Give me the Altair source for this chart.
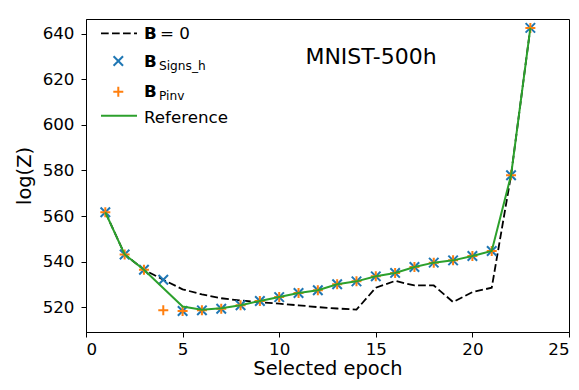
import altair as alt
import pandas as pd

# ---------------- data ----------------
epochs = list(range(1, 24))
b_zero = [561.7, 543.2, 536.5, 532.1, 527.9, 525.7, 524.0, 523.0, 522.3, 521.6,
          520.9, 520.1, 519.5, 519.0, 528.6, 531.6, 529.6, 529.6, 522.3, 526.7,
          528.6, 577.9, 642.5]
b_signs_h = [561.7, 543.2, 536.5, 532.1, 518.4, 518.7, 519.4, 520.9, 522.8, 524.5,
             526.3, 527.5, 530.1, 531.4, 533.6, 535.1, 537.7, 539.6, 540.6, 542.5,
             544.7, 577.9, 642.5]
b_pinv = [561.7, 543.2, 536.5, 518.7, 518.4, 518.7, 519.4, 520.9, 522.8, 524.5,
          526.3, 527.5, 530.1, 531.4, 533.6, 535.1, 537.7, 539.6, 540.6, 542.5,
          544.7, 577.9, 642.5]
ref_epochs = [1, 2, 3, 5, 6, 7, 8, 9, 10, 11, 12, 13, 14, 15, 16, 17, 18, 19, 20,
              21, 22, 23]
reference = [561.7, 543.2, 536.5, 520.4, 519.0, 519.6, 520.9, 522.8, 524.5, 526.3,
             527.5, 530.1, 531.4, 533.6, 535.1, 537.7, 539.6, 540.6, 542.5, 544.7,
             577.9, 642.5]

x_ticks = [0, 5, 10, 15, 20, 25]
y_ticks = [520, 540, 560, 580, 600, 620, 640]
x_domain = [0, 25]
y_domain = [509.2, 646.4]
title_text = "MNIST-500h"
x_title = "Selected epoch"
y_title = "log(Z)"
legend_main = ["B", "B", "B", "Reference"]
legend_rest = ["= 0", "Signs_h", "Pinv"]

# ---------------- styles ----------------
FONT = "DejaVu Sans"
BLUE = "#1f77b4"
ORANGE = "#ff7f0e"
GREEN = "#2ca02c"
XPATH = "M-1,-1L1,1M-1,1L1,-1"
PLUS = "M-1,0L1,0M0,-1L0,1"

df_b0 = pd.DataFrame({"epoch": epochs, "v": b_zero})
df_sg = pd.DataFrame({"epoch": epochs, "v": b_signs_h})
df_pi = pd.DataFrame({"epoch": epochs, "v": b_pinv})
df_ref = pd.DataFrame({"epoch": ref_epochs, "v": reference})

X = alt.X("epoch:Q", scale=alt.Scale(domain=x_domain, nice=False, zero=False),
          axis=alt.Axis(values=x_ticks, title=x_title, labelPadding=4, titlePadding=2,
                        format="d"))
Y = alt.Y("v:Q", scale=alt.Scale(domain=y_domain, nice=False, zero=False),
          axis=alt.Axis(values=y_ticks, title=y_title, labelPadding=7, titlePadding=8,
                        format="d"))

line_b0 = alt.Chart(df_b0).mark_line(color="black", strokeWidth=1.8,
                                     strokeDash=[7.7, 3.3]).encode(x=X, y=Y)
pts_sg = alt.Chart(df_sg).mark_point(shape=XPATH, filled=False, stroke=BLUE,
                                     strokeWidth=2, size=90, opacity=1).encode(x=X, y=Y)
pts_pi = alt.Chart(df_pi).mark_point(shape=PLUS, filled=False, stroke=ORANGE,
                                     strokeWidth=2, size=100, opacity=1).encode(x=X, y=Y)
line_ref = alt.Chart(df_ref).mark_line(color=GREEN, strokeWidth=2).encode(x=X, y=Y)

one = alt.Data(values=[{"a": 1}])


def txt(s, x, y, size, weight="normal", align="left", baseline="alphabetic"):
    return alt.Chart(one).mark_text(text=s, font=FONT, fontSize=size, fontWeight=weight,
                                    align=align, baseline=baseline, color="black").encode(
        x=alt.value(x), y=alt.value(y))


title = txt(title_text, 285, 38, 22, align="center", baseline="middle")

# legend
leg_line1 = alt.Chart(one).mark_rule(color="black", strokeWidth=1.8,
                                     strokeDash=[7.7, 3.3]).encode(
    x=alt.value(15), x2=alt.value(51), y=alt.value(14.3))
leg_line4 = alt.Chart(one).mark_rule(color=GREEN, strokeWidth=2).encode(
    x=alt.value(15), x2=alt.value(51), y=alt.value(96.7))
leg_x = alt.Chart(one).mark_point(shape=XPATH, filled=False, stroke=BLUE, strokeWidth=2,
                                  size=90, opacity=1).encode(x=alt.value(32.3), y=alt.value(42))
leg_p = alt.Chart(one).mark_point(shape=PLUS, filled=False, stroke=ORANGE, strokeWidth=2,
                                  size=100, opacity=1).encode(x=alt.value(32.3), y=alt.value(72.7))

legend_texts = [
    txt(legend_main[0], 58, 20, 16.7, weight="bold"),
    txt(legend_rest[0], 74, 20, 16.7),
    txt(legend_main[1], 58, 47.7, 16.7, weight="bold"),
    txt(legend_rest[1], 73, 51, 12.2),
    txt(legend_main[2], 58, 78.3, 16.7, weight="bold"),
    txt(legend_rest[2], 73, 81, 12.2),
    txt(legend_main[3], 58, 104, 16.7),
]

chart = alt.layer(line_b0, pts_sg, pts_pi, line_ref, title, leg_line1, leg_line4,
                  leg_x, leg_p, *legend_texts).properties(
    width=483, height=313,
    autosize=alt.AutoSizeParams(type="none"),
    padding={"left": 78, "top": 11, "right": 2, "bottom": 50},
).configure_view(stroke="black", strokeWidth=1).configure_axis(
    grid=False, domainColor="black", tickColor="black", labelColor="black",
    titleColor="black", labelFont=FONT, titleFont=FONT, labelFontSize=16.7,
    titleFontSize=19.4, titleFontWeight="normal", tickSize=5, domainWidth=1, tickWidth=1,
)

chart.save("out.html", embed_options={"renderer": "svg", "actions": False})
